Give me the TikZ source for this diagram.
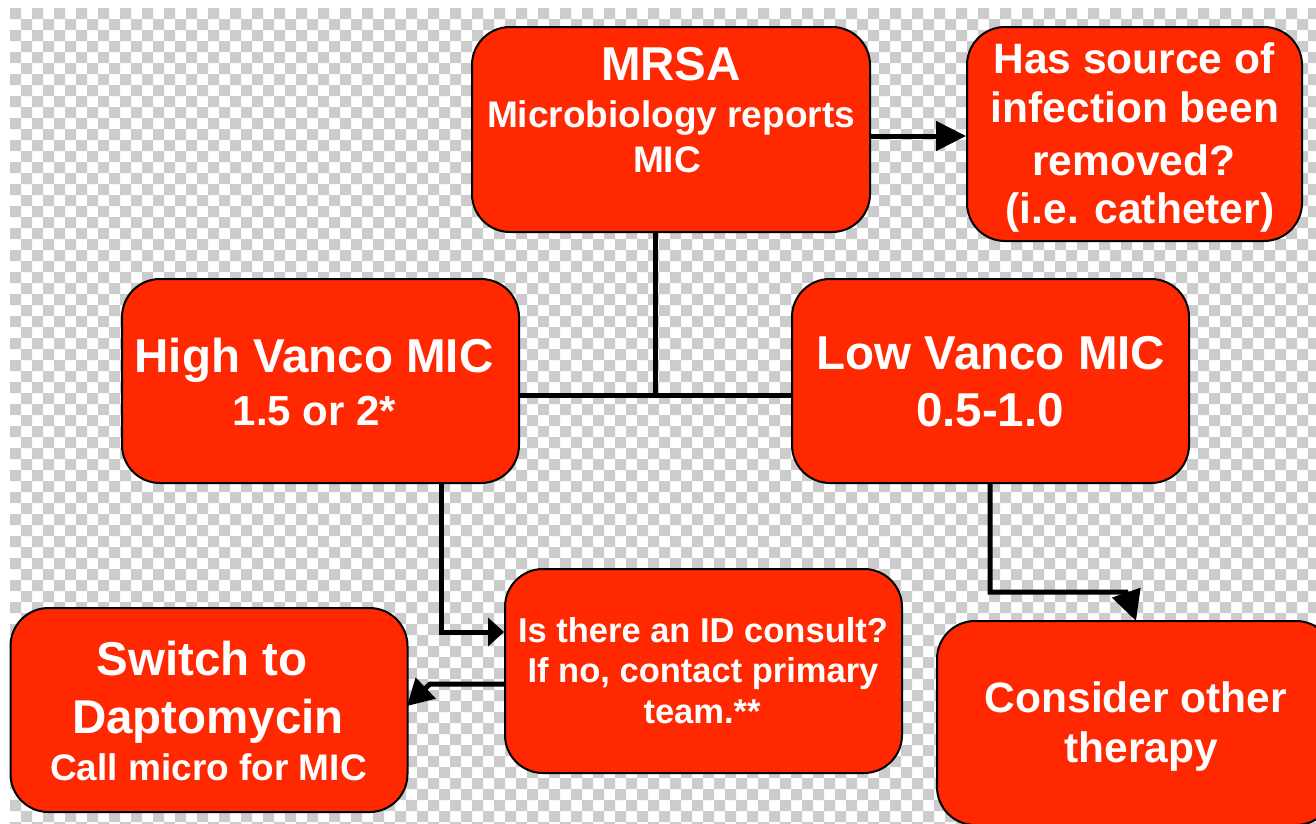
\documentclass[tikz,border=0pt]{standalone}
\usepackage{fontspec}
\setmainfont{Liberation Sans}
\usetikzlibrary{arrows.meta}
\definecolor{boxred}{RGB}{255,40,0}
\definecolor{checkgray}{RGB}{204,204,204}
\newcommand{\fs}[1]{\fontsize{#1}{#1}\selectfont\bfseries}
\begin{document}
\begin{tikzpicture}[x=1pt,y=-1pt,
  box/.style={draw=black,line width=2pt,fill=boxred,rounded corners=38pt,inner sep=0pt,
    minimum width=397pt,minimum height=204pt},
  txt/.style={text=white,anchor=base,inner sep=0pt},
  conn/.style={line width=5pt,black},
  arr/.style={conn,-{Triangle[length=16pt,width=28pt]}},
  bigarr/.style={conn,-{Triangle[length=30pt,width=29pt]}},
  midarr/.style={conn,-{Triangle[length=26pt,width=28pt]}}]
\useasboundingbox (0,0) rectangle (1316,823);
\fill[white] (0,0) rectangle (1316,823);
\fill[checkgray]
  \foreach \j in {0,2,...,74} { \foreach \i in {0,2,...,118} { ({10+\i*11},{8+\j*11}) rectangle ++(11,11) } }
  \foreach \j in {1,3,...,73} { \foreach \i in {1,3,...,119} { ({10+\i*11},{8+\j*11}) rectangle ++(11,11) } };

% boxes
\node[box,minimum width=398pt,minimum height=205pt] (mrsa) at (671,129.5) {};
\node[box,minimum width=335pt,minimum height=214pt] (has) at (1134.5,134) {};
\node[box] (high) at (320.5,381) {};
\node[box] (low) at (990.5,381) {};
\node[box] (id) at (703.5,671) {};
\node[box] (sw) at (209,710) {};
\node[box] (cons) at (1135.5,723) {};

% texts
\node[txt,font=\fs{47.5}] (t1) at (671,80) {MRSA};
\node[txt,font=\fs{37}] (t2) at (671,127) {Microbiology reports};
\node[txt,font=\fs{37}] (t3) at (667,172) {MIC};

\node[txt,font=\fs{42.5}] (t4) at (1134,73) {Has source of};
\node[txt,font=\fs{42.5}] (t5) at (1135,122) {infection been};
\node[txt,font=\fs{42.5}] (t6) at (1134,175) {removed?};
\node[txt,font=\fs{42.5}] (t7) at (1140,223) {(i.e. catheter)};

\node[txt,font=\fs{47.5}] (t8) at (314,372) {High Vanco MIC};
\node[txt,font=\fs{42}] (t9) at (314.5,425) {1.5 or 2*};

\node[txt,font=\fs{47.5}] (t10) at (991,369) {Low Vanco MIC};
\node[txt,font=\fs{47.5}] (t11) at (990,426) {0.5-1.0};

\node[txt,font=\fs{34.5}] (t12) at (703,642) {Is there an ID consult?};
\node[txt,font=\fs{34.5}] (t13) at (703,682) {If no, contact primary};
\node[txt,font=\fs{34.5}] (t14) at (702,723) {team.**};

\node[txt,font=\fs{47.5}] (t15) at (202,675) {Switch to};
\node[txt,font=\fs{47.5}] (t16) at (208,733) {Daptomycin};
\node[txt,font=\fs{37}] (t17) at (208.5,780) {Call micro for MIC};

\node[txt,font=\fs{42.5}] (t18) at (1136,712) {Consider other};
\node[txt,font=\fs{42.5}] (t19) at (1141,762) {therapy};

% connectors
\coordinate (j) at (655,395);
\coordinate (m1) at (870,136);
\coordinate (h1) at (441,632);
\coordinate (s1) at (430,684);
\coordinate (s2) at (407,706);
\coordinate (l1) at (990,592);
\coordinate (l2) at (1126,592);
\coordinate (l3) at (1136,621);

\draw[bigarr] (m1) -- (m1 -| has.west);
\draw[conn] (j |- mrsa.south) -- (j);
\draw[conn] (high.east |- j) -- (low.west |- j);
\draw[arr] (h1 |- high.south) -- (h1) -- (id.west |- h1);
\draw[midarr] (id.west |- s1) -- (s1) -- (s2);
\draw[bigarr] (l1 |- low.south) -- (l1) -- (l2) -- (l3);
\end{tikzpicture}
\end{document}
